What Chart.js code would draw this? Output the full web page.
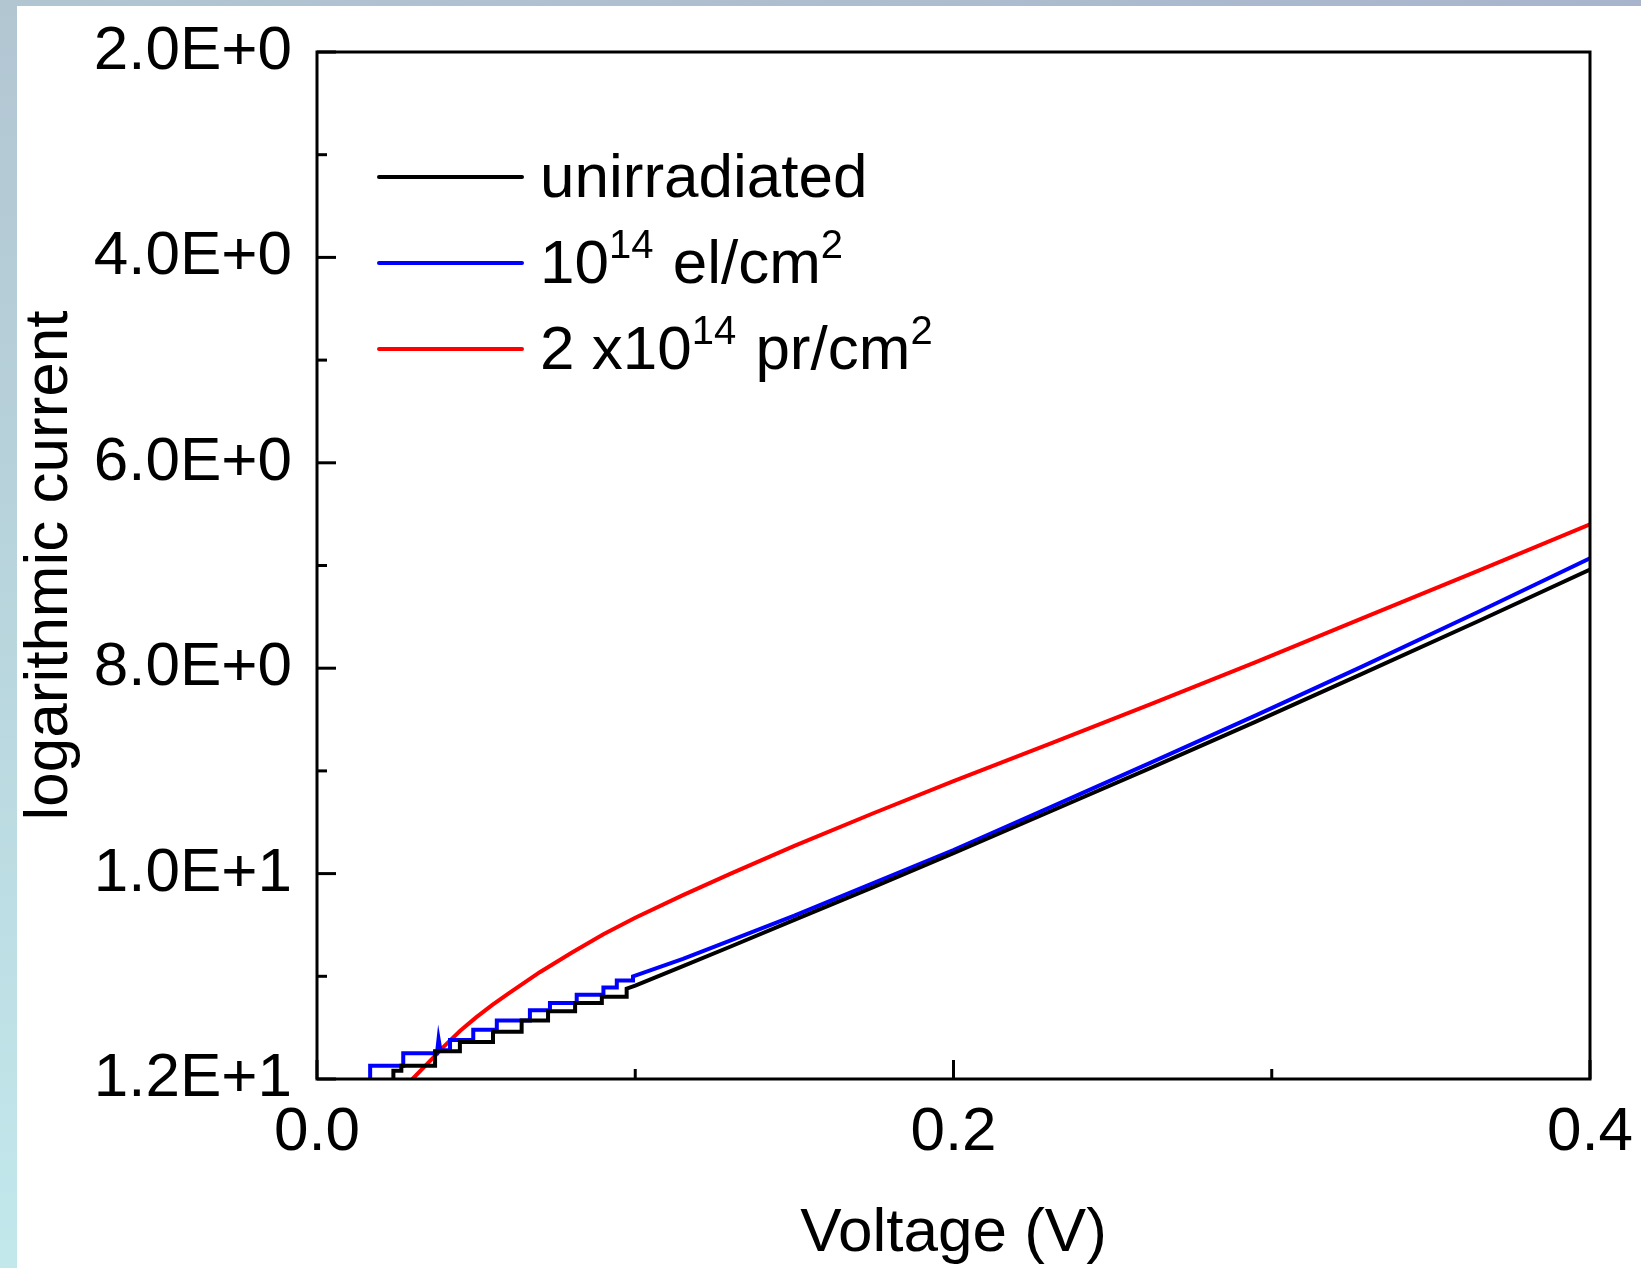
<!DOCTYPE html>
<html>
<head>
<meta charset="utf-8">
<script src="https://cdn.jsdelivr.net/npm/chart.js@4.4.0/dist/chart.umd.min.js"></script>
<style>
  html, body { margin: 0; padding: 0; background: #fff; }
  #wrap { position: relative; width: 1641px; height: 1268px; overflow: hidden; background: #fff; }
  #stripLeft { position: absolute; left: 0; top: 0; width: 17px; height: 1268px;
    background: linear-gradient(to bottom, #b2c6d2 0%, #b8d4dc 45%, #c2e8ec 100%); }
  #stripTop { position: absolute; left: 0; top: 0; width: 1641px; height: 6px;
    background: linear-gradient(to right, #b2c6d2 0%, #adbccf 60%, #a8b4cc 100%); }
  canvas { position: absolute; left: 0; top: 0; }
</style>
</head>
<body>
<div id="wrap">
  <div id="stripLeft"></div>
  <div id="stripTop"></div>
  <canvas id="ivChart" width="1641" height="1268"></canvas>
</div>
<script>
'use strict';

// legend text, ^{..} marks a superscript
const seriesLabels = ['unirradiated', '10^{14} el/cm^{2}', '2 x10^{14} pr/cm^{2}'];
const seriesColors = ['#000000', '#0000ff', '#ff0000'];

// unirradiated (black)
const unirrV = [0.0240, 0.0240, 0.0265, 0.0265, 0.0371, 0.0371, 0.0449, 0.0449, 0.0553, 0.0553,
  0.0643, 0.0643, 0.0726, 0.0726, 0.0811, 0.0811, 0.0895, 0.0895, 0.0973, 0.0973,
  0.100, 0.115, 0.130, 0.150, 0.175, 0.200, 0.230, 0.262, 0.295, 0.328, 0.365, 0.400];
const unirrI = [12.00, 11.92, 11.92, 11.87, 11.87, 11.73, 11.73, 11.64, 11.64, 11.54,
  11.54, 11.43, 11.43, 11.34, 11.34, 11.26, 11.26, 11.20, 11.20, 11.12,
  11.09, 10.90, 10.71, 10.45, 10.13, 9.80, 9.40, 8.97, 8.52, 8.06, 7.54, 7.04];

// 1e14 electrons/cm2 (blue)
const electronV = [0.0167, 0.0167, 0.0271, 0.0271, 0.0377, 0.0382, 0.0388, 0.0418, 0.0418, 0.0491,
  0.0491, 0.0565, 0.0565, 0.0669, 0.0669, 0.0732, 0.0732, 0.0816, 0.0816, 0.0900,
  0.0900, 0.0942, 0.0942, 0.0993, 0.0993,
  0.115, 0.130, 0.150, 0.175, 0.200, 0.230, 0.262, 0.295, 0.328, 0.365, 0.400];
const electronI = [12.00, 11.87, 11.87, 11.75, 11.75, 11.61, 11.72, 11.72, 11.62, 11.62,
  11.52, 11.52, 11.43, 11.43, 11.33, 11.33, 11.26, 11.26, 11.18, 11.18,
  11.11, 11.11, 11.04, 11.04, 11.00,
  10.83, 10.65, 10.41, 10.09, 9.77, 9.36, 8.92, 8.46, 7.99, 7.45, 6.93];

// 2e14 protons/cm2 (red)
const protonV = [0.030, 0.035, 0.040, 0.045, 0.050, 0.055, 0.060, 0.070, 0.080, 0.090,
  0.100, 0.115, 0.130, 0.150, 0.175, 0.200, 0.230, 0.262, 0.295, 0.328, 0.365, 0.400];
const protonI = [12.00, 11.84, 11.68, 11.53, 11.40, 11.28, 11.17, 10.96, 10.77, 10.59,
  10.43, 10.21, 10.00, 9.73, 9.41, 9.10, 8.74, 8.35, 7.94, 7.52, 7.05, 6.60];

// axis ticks
const xMajorTicks = [0.0, 0.2, 0.4];
const xMinorTicks = [0.1, 0.3];
const yMajorTicks = [2, 4, 6, 8, 10, 12];
const yMinorTicks = [3, 5, 7, 9, 11];

const FONT = '"Liberation Sans", Arial, sans-serif';

function toPoints(xs, ys) {
  return xs.map((v, i) => ({x: v, y: ys[i]}));
}

const seriesData = [
  toPoints(unirrV, unirrI),
  toPoints(electronV, electronI),
  toPoints(protonV, protonI)
];

// box around the plot and inward tick marks (only bottom and left)
const frameTicks = {
  id: 'frameTicks',
  afterDatasetsDraw(chart) {
    const ctx = chart.ctx;
    const a = chart.chartArea;
    const xs = chart.scales.x;
    const ys = chart.scales.y;
    ctx.save();
    ctx.strokeStyle = '#000';
    ctx.lineWidth = 3;
    ctx.lineCap = 'butt';
    ctx.strokeRect(a.left, a.top, a.right - a.left, a.bottom - a.top);

    function tick(x1, y1, x2, y2) {
      ctx.beginPath();
      ctx.moveTo(x1, y1);
      ctx.lineTo(x2, y2);
      ctx.stroke();
    }
    yMajorTicks.forEach(v => { const p = ys.getPixelForValue(v); tick(a.left, p, a.left + 19, p); });
    yMinorTicks.forEach(v => { const p = ys.getPixelForValue(v); tick(a.left, p, a.left + 10, p); });
    xMajorTicks.forEach(v => { const p = xs.getPixelForValue(v); tick(p, a.bottom, p, a.bottom - 19); });
    xMinorTicks.forEach(v => { const p = xs.getPixelForValue(v); tick(p, a.bottom, p, a.bottom - 10); });
    ctx.restore();
  }
};

// legend with superscripts
const richLegend = {
  id: 'richLegend',
  afterDraw(chart) {
    const ctx = chart.ctx;
    const a = chart.chartArea;
    ctx.save();
    chart.data.datasets.forEach((ds, i) => {
      const ly = a.top + 125 + i * 86;
      ctx.strokeStyle = ds.borderColor;
      ctx.lineWidth = 4;
      ctx.lineCap = 'round';
      ctx.beginPath();
      ctx.moveTo(a.left + 62, ly);
      ctx.lineTo(a.left + 205, ly);
      ctx.stroke();

      let tx = a.left + 223;
      const base = ly + 20;
      ctx.fillStyle = '#000';
      ctx.textBaseline = 'alphabetic';
      ctx.textAlign = 'left';
      const parts = seriesLabels[i].split(/\^\{([^}]*)\}/);
      parts.forEach((part, k) => {
        if (!part) return;
        const sup = k % 2 === 1;
        ctx.font = (sup ? '40px ' : '62px ') + FONT;
        ctx.fillText(part, tx, sup ? base - 25 : base);
        tx += ctx.measureText(part).width + (sup ? 2 : 0);
      });
    });
    ctx.restore();
  }
};

// fixed axis sizes, no label overflow padding
function fixScale(size) {
  return function (s) {
    if (s.isHorizontal()) {
      s.height = size;
    } else {
      s.width = size;
    }
    s.paddingTop = 0;
    s.paddingBottom = 0;
    s.paddingLeft = 0;
    s.paddingRight = 0;
  };
}

const ctx = document.getElementById('ivChart').getContext('2d');
new Chart(ctx, {
  type: 'line',
  data: {
    datasets: seriesData.map((pts, i) => ({
      label: seriesLabels[i],
      data: pts,
      borderColor: seriesColors[i],
      backgroundColor: seriesColors[i],
      borderWidth: 4,
      pointRadius: 0,
      tension: 0,
      fill: false
    }))
  },
  options: {
    responsive: false,
    animation: false,
    layout: {
      autoPadding: false,
      padding: {left: 0, top: 52, right: 51, bottom: 0}
    },
    plugins: {
      legend: {display: false},
      tooltip: {enabled: false},
      title: {display: false}
    },
    scales: {
      x: {
        type: 'linear',
        min: 0,
        max: 0.4,
        afterBuildTicks: s => { s.ticks = xMajorTicks.map(v => ({value: v})); },
        afterFit: fixScale(189),
        grid: {display: false, drawTicks: false},
        border: {display: false},
        ticks: {
          padding: 17,
          color: '#000',
          font: {family: FONT, size: 62},
          maxRotation: 0,
          callback: v => Number(v).toFixed(1)
        },
        title: {
          display: true,
          text: 'Voltage (V)',
          color: '#000',
          font: {family: FONT, size: 62, lineHeight: 1},
          padding: {top: 0, bottom: 3}
        }
      },
      y: {
        type: 'linear',
        reverse: true,
        min: 2,
        max: 12,
        afterBuildTicks: s => { s.ticks = yMajorTicks.map(v => ({value: v})); },
        afterFit: fixScale(317),
        grid: {display: false, drawTicks: false},
        border: {display: false},
        ticks: {
          padding: 25,
          color: '#000',
          font: {family: FONT, size: 62},
          callback: v => Number(v).toExponential(1).toUpperCase()
        },
        title: {
          display: true,
          text: 'logarithmic current',
          color: '#000',
          font: {family: FONT, size: 62, lineHeight: 1},
          padding: {top: 19, bottom: 0}
        }
      }
    }
  },
  plugins: [frameTicks, richLegend]
});
</script>
</body>
</html>
